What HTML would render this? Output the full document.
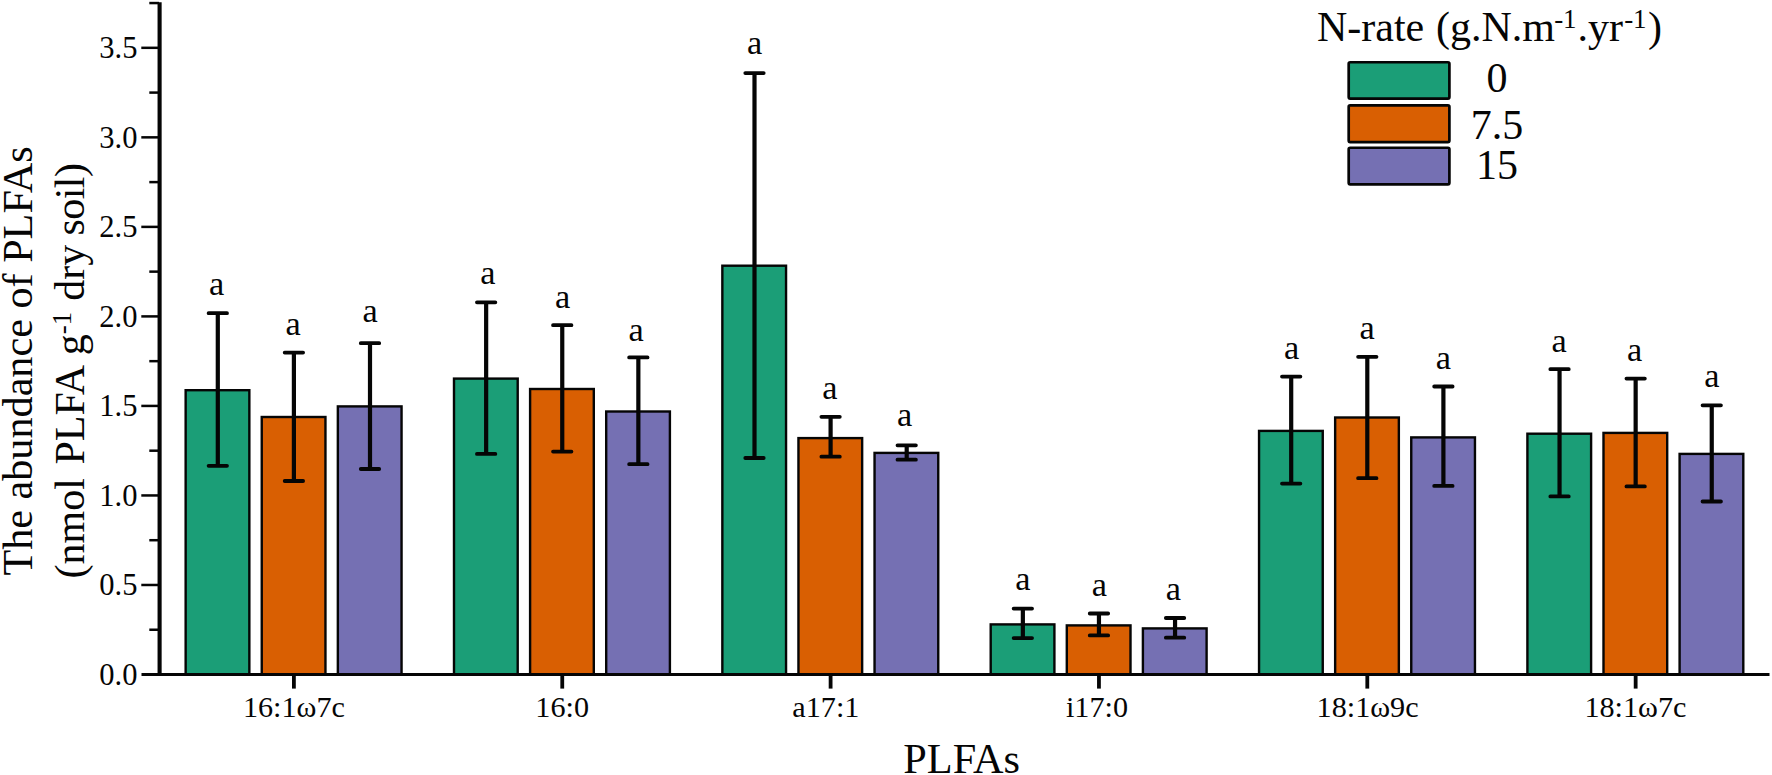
<!DOCTYPE html>
<html lang="en"><head><meta charset="utf-8"><title>PLFAs abundance</title>
<style>html,body{margin:0;padding:0;background:#fff}body{width:1772px;height:775px;overflow:hidden}svg{display:block}text{font-family:"Liberation Serif","Times New Roman",serif;fill:#050505}</style></head><body>
<svg width="1772" height="775" viewBox="0 0 1772 775">
<rect width="1772" height="775" fill="#fff"/>
<g stroke="#050505" stroke-width="2.4" stroke-linejoin="miter">
<rect x="185.65" y="390.20" width="63.70" height="284.30" fill="#1b9e77"/>
<rect x="261.75" y="417.00" width="63.70" height="257.50" fill="#d95f02"/>
<rect x="337.85" y="406.40" width="63.70" height="268.10" fill="#7570b3"/>
<rect x="454.00" y="378.60" width="63.70" height="295.90" fill="#1b9e77"/>
<rect x="530.10" y="389.00" width="63.70" height="285.50" fill="#d95f02"/>
<rect x="606.20" y="411.50" width="63.70" height="263.00" fill="#7570b3"/>
<rect x="722.35" y="265.70" width="63.70" height="408.80" fill="#1b9e77"/>
<rect x="798.45" y="438.10" width="63.70" height="236.40" fill="#d95f02"/>
<rect x="874.55" y="452.90" width="63.70" height="221.60" fill="#7570b3"/>
<rect x="990.70" y="624.40" width="63.70" height="50.10" fill="#1b9e77"/>
<rect x="1066.80" y="625.40" width="63.70" height="49.10" fill="#d95f02"/>
<rect x="1142.90" y="628.40" width="63.70" height="46.10" fill="#7570b3"/>
<rect x="1259.05" y="430.90" width="63.70" height="243.60" fill="#1b9e77"/>
<rect x="1335.15" y="417.50" width="63.70" height="257.00" fill="#d95f02"/>
<rect x="1411.25" y="437.40" width="63.70" height="237.10" fill="#7570b3"/>
<rect x="1527.40" y="433.70" width="63.70" height="240.80" fill="#1b9e77"/>
<rect x="1603.50" y="432.90" width="63.70" height="241.60" fill="#d95f02"/>
<rect x="1679.60" y="453.90" width="63.70" height="220.60" fill="#7570b3"/>
</g>
<g stroke="#050505" fill="none">
<path d="M217.80 313.20V465.80" stroke-width="4.2"/>
<path d="M208.60 313.20H227.00M208.60 465.80H227.00" stroke-width="3.8" stroke-linecap="round"/>
<path d="M293.90 352.60V481.00" stroke-width="4.2"/>
<path d="M284.70 352.60H303.10M284.70 481.00H303.10" stroke-width="3.8" stroke-linecap="round"/>
<path d="M370.00 343.20V469.00" stroke-width="4.2"/>
<path d="M360.80 343.20H379.20M360.80 469.00H379.20" stroke-width="3.8" stroke-linecap="round"/>
<path d="M486.15 302.30V453.90" stroke-width="4.2"/>
<path d="M476.95 302.30H495.35M476.95 453.90H495.35" stroke-width="3.8" stroke-linecap="round"/>
<path d="M562.25 325.20V451.60" stroke-width="4.2"/>
<path d="M553.05 325.20H571.45M553.05 451.60H571.45" stroke-width="3.8" stroke-linecap="round"/>
<path d="M638.35 357.40V464.20" stroke-width="4.2"/>
<path d="M629.15 357.40H647.55M629.15 464.20H647.55" stroke-width="3.8" stroke-linecap="round"/>
<path d="M754.50 73.10V458.00" stroke-width="4.2"/>
<path d="M745.30 73.10H763.70M745.30 458.00H763.70" stroke-width="3.8" stroke-linecap="round"/>
<path d="M830.60 416.80V456.70" stroke-width="4.2"/>
<path d="M821.40 416.80H839.80M821.40 456.70H839.80" stroke-width="3.8" stroke-linecap="round"/>
<path d="M906.70 445.30V459.70" stroke-width="4.2"/>
<path d="M897.50 445.30H915.90M897.50 459.70H915.90" stroke-width="3.8" stroke-linecap="round"/>
<path d="M1022.85 608.60V638.10" stroke-width="4.2"/>
<path d="M1013.65 608.60H1032.05M1013.65 638.10H1032.05" stroke-width="3.8" stroke-linecap="round"/>
<path d="M1098.95 613.50V635.40" stroke-width="4.2"/>
<path d="M1089.75 613.50H1108.15M1089.75 635.40H1108.15" stroke-width="3.8" stroke-linecap="round"/>
<path d="M1175.05 618.00V637.70" stroke-width="4.2"/>
<path d="M1165.85 618.00H1184.25M1165.85 637.70H1184.25" stroke-width="3.8" stroke-linecap="round"/>
<path d="M1291.20 376.60V483.60" stroke-width="4.2"/>
<path d="M1282.00 376.60H1300.40M1282.00 483.60H1300.40" stroke-width="3.8" stroke-linecap="round"/>
<path d="M1367.30 356.80V478.20" stroke-width="4.2"/>
<path d="M1358.10 356.80H1376.50M1358.10 478.20H1376.50" stroke-width="3.8" stroke-linecap="round"/>
<path d="M1443.40 386.50V485.90" stroke-width="4.2"/>
<path d="M1434.20 386.50H1452.60M1434.20 485.90H1452.60" stroke-width="3.8" stroke-linecap="round"/>
<path d="M1559.55 369.20V496.40" stroke-width="4.2"/>
<path d="M1550.35 369.20H1568.75M1550.35 496.40H1568.75" stroke-width="3.8" stroke-linecap="round"/>
<path d="M1635.65 378.60V486.40" stroke-width="4.2"/>
<path d="M1626.45 378.60H1644.85M1626.45 486.40H1644.85" stroke-width="3.8" stroke-linecap="round"/>
<path d="M1711.75 405.30V501.50" stroke-width="4.2"/>
<path d="M1702.55 405.30H1720.95M1702.55 501.50H1720.95" stroke-width="3.8" stroke-linecap="round"/>
</g>
<g font-size="34.3" text-anchor="middle">
<text x="216.7" y="294.5">a</text>
<text x="293.0" y="334.8">a</text>
<text x="370.1" y="321.9">a</text>
<text x="487.8" y="284.2">a</text>
<text x="562.7" y="307.8">a</text>
<text x="636.2" y="340.7">a</text>
<text x="754.7" y="54.0">a</text>
<text x="829.9" y="399.0">a</text>
<text x="904.7" y="425.8">a</text>
<text x="1022.8" y="590.1">a</text>
<text x="1099.3" y="596.0">a</text>
<text x="1173.3" y="600.0">a</text>
<text x="1291.5" y="358.9">a</text>
<text x="1367.2" y="338.8">a</text>
<text x="1443.3" y="369.4">a</text>
<text x="1559.2" y="352.4">a</text>
<text x="1634.7" y="360.9">a</text>
<text x="1711.9" y="387.3">a</text>
</g>
<g stroke="#050505" fill="none">
<path d="M159.6 2.2V676.00" stroke-width="4.1"/>
<path d="M141.5 674.50H1769.5" stroke-width="3.1"/>
<path d="M149.3 629.74H159" stroke-width="2.5"/>
<path d="M141.3 584.98H159" stroke-width="2.5"/>
<path d="M149.3 540.21H159" stroke-width="2.5"/>
<path d="M141.3 495.45H159" stroke-width="2.5"/>
<path d="M149.3 450.69H159" stroke-width="2.5"/>
<path d="M141.3 405.92H159" stroke-width="2.5"/>
<path d="M149.3 361.16H159" stroke-width="2.5"/>
<path d="M141.3 316.40H159" stroke-width="2.5"/>
<path d="M149.3 271.64H159" stroke-width="2.5"/>
<path d="M141.3 226.88H159" stroke-width="2.5"/>
<path d="M149.3 182.11H159" stroke-width="2.5"/>
<path d="M141.3 137.35H159" stroke-width="2.5"/>
<path d="M149.3 92.59H159" stroke-width="2.5"/>
<path d="M141.3 47.82H159" stroke-width="2.5"/>
<path d="M149.3 3.06H159" stroke-width="2.5"/>
<path d="M293.90 674.50V688.6" stroke-width="3.8"/>
<path d="M562.25 674.50V688.6" stroke-width="3.8"/>
<path d="M830.60 674.50V688.6" stroke-width="3.8"/>
<path d="M1098.95 674.50V688.6" stroke-width="3.8"/>
<path d="M1367.30 674.50V688.6" stroke-width="3.8"/>
<path d="M1635.65 674.50V688.6" stroke-width="3.8"/>
</g>
<g font-size="30.5" text-anchor="end">
<text x="137.4" y="684.8">0.0</text>
<text x="137.4" y="595.3">0.5</text>
<text x="137.4" y="505.8">1.0</text>
<text x="137.4" y="416.2">1.5</text>
<text x="137.4" y="326.7">2.0</text>
<text x="137.4" y="237.2">2.5</text>
<text x="137.4" y="147.6">3.0</text>
<text x="137.4" y="58.1">3.5</text>
</g>
<g font-size="30.2" text-anchor="middle">
<text x="293.9" y="717.3">16:1ω7c</text>
<text x="562.2" y="717.3">16:0</text>
<text x="825.9" y="717.3">a17:1</text>
<text x="1097.0" y="717.3">i17:0</text>
<text x="1367.6" y="717.3">18:1ω9c</text>
<text x="1635.4" y="717.3">18:1ω7c</text>
</g>
<text x="961.7" y="772.6" font-size="42.3" text-anchor="middle">PLFAs</text>
<text transform="translate(32.4 361) rotate(-90)" font-size="42.2" text-anchor="middle">The abundance of PLFAs</text>
<text transform="translate(83.5 578.4) rotate(-90)" font-size="42">(nmol<tspan dx="3"> PLFA</tspan><tspan dx="1.5"> g</tspan><tspan font-size="27" dy="-13">-1</tspan><tspan dy="13" dx="0.5"> dry</tspan><tspan dx="-0.5" letter-spacing="-0.6"> soil)</tspan></text>
<text y="40.7" font-size="42"><tspan x="1317">N-rate</tspan><tspan dx="1.2"> (g.N.m</tspan><tspan font-size="27" x="1554.3" dy="-13">-</tspan><tspan font-size="27" x="1562.9">1</tspan><tspan x="1577.6" dy="13">.yr</tspan><tspan font-size="27" x="1624.3" dy="-13">-</tspan><tspan font-size="27" x="1633.1">1</tspan><tspan x="1648.1" dy="13">)</tspan></text>
<g stroke="#050505" stroke-width="2.7">
<rect x="1348.7" y="62.25" width="100.7" height="36.30" rx="1.5" fill="#1b9e77"/>
<rect x="1348.7" y="105.35" width="100.7" height="36.70" rx="1.5" fill="#d95f02"/>
<rect x="1348.7" y="147.75" width="100.7" height="36.60" rx="1.5" fill="#7570b3"/>
</g>
<g font-size="42" text-anchor="middle">
<text x="1497" y="92.2">0</text>
<text x="1497" y="139.4">7.5</text>
<text x="1497" y="178.5">15</text>
</g>
</svg></body></html>
